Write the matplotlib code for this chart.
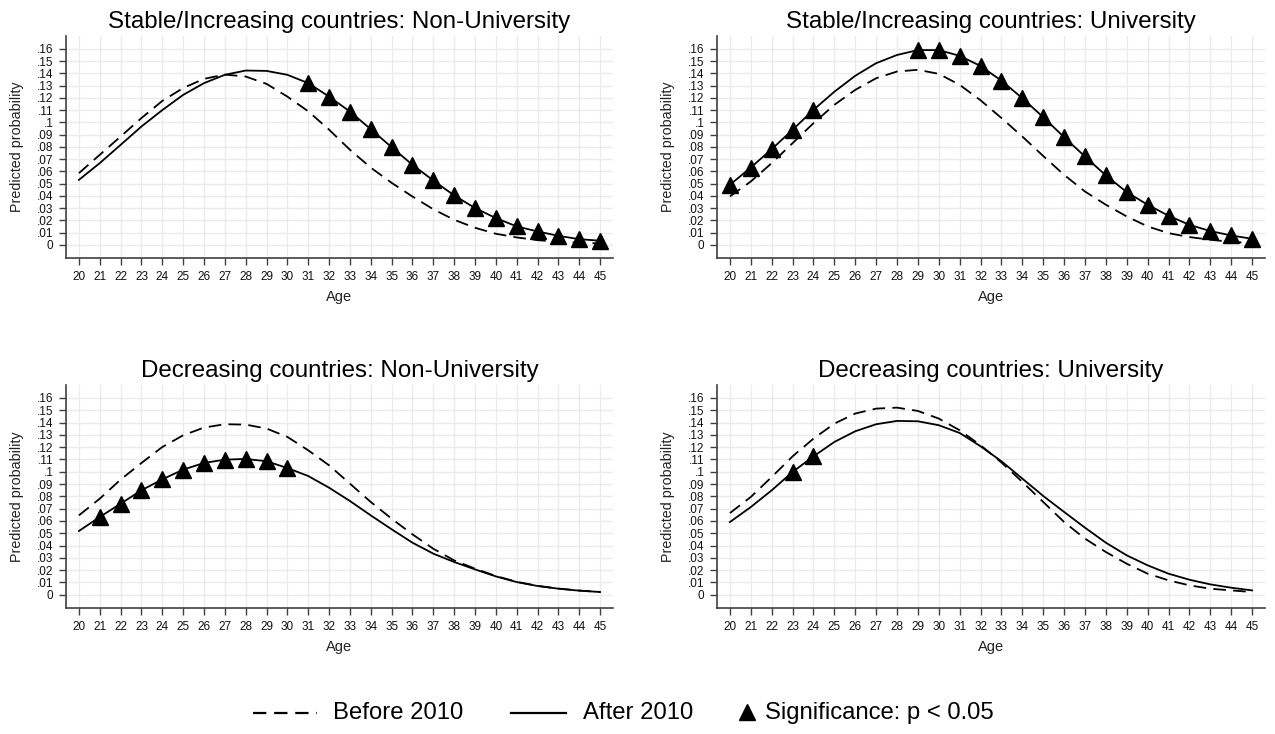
import matplotlib
matplotlib.use("Agg")
import matplotlib.pyplot as plt
from matplotlib.lines import Line2D

plt.rcParams['font.family'] = ['Liberation Sans', 'DejaVu Sans']

# ages on the x axis
ages = list(range(20, 46))

# Stable/Increasing countries: Non-University
si_nonuni_before = [.0585, .0735, .0884, .1035, .1175, .128, .1355, .1390, .1374, .1314,
                    .121, .109, .094, .0776, .063, .0506, .0394, .0290, .0204, .0139,
                    .0090, .0060, .0038, .0024, .0016, .0011]
si_nonuni_after = [.053, .0667, .0816, .0966, .110, .1224, .132, .1388, .1423, .142,
                   .1388, .132, .121, .1088, .0944, .0797, .0653, .0525, .0403, .030,
                   .0218, .015, .0109, .0073, .0046, .0033]
si_nonuni_sig = list(range(31, 46))

# Stable/Increasing countries: University
si_uni_before = [.0395, .0517, .0667, .083, .0993, .1143, .1265, .136, .1415, .1429,
                 .1396, .1306, .118, .1035, .0884, .0725, .0571, .0435, .0327, .0231,
                 .015, .0095, .0063, .0041, .0024, .0014]
si_uni_after = [.049, .0631, .0781, .0939, .1102, .125, .138, .1483, .155, .159,
                .159, .1543, .146, .134, .1197, .1042, .0879, .0721, .0566, .043,
                .0327, .0237, .0163, .0112, .0076, .0049]
si_uni_sig = [20, 21, 22, 23, 24] + list(range(29, 46))

# Decreasing countries: Non-University
de_nonuni_before = [.0645, .0781, .0936, .1071, .1201, .1296, .1359, .1386, .1383, .1351,
                    .1283, .1174, .1052, .0903, .0754, .0618, .0491, .0374, .0279, .0212,
                    .0152, .0105, .0072, .0050, .0034, .0023]
de_nonuni_after = [.0518, .0632, .074, .0849, .0938, .1017, .1071, .1098, .1104, .1085,
                   .103, .0965, .087, .0762, .0645, .0532, .0423, .0334, .0266, .0206,
                   .0149, .0103, .0071, .0049, .0033, .0022]
de_nonuni_sig = list(range(21, 31))

# Decreasing countries: University
de_uni_before = [.0664, .0795, .0957, .1125, .1269, .1391, .1473, .1513, .1521, .1494,
                 .1432, .1337, .1215, .1075, .0917, .0754, .0591, .0456, .0347, .0252,
                 .0171, .0117, .0076, .0049, .0035, .0022]
de_uni_after = [.0591, .0713, .0849, .0998, .1125, .1242, .1329, .1386, .1413, .141,
                .1378, .1315, .1207, .1085, .0944, .0803, .0673, .0545, .0423, .032,
                .0239, .0171, .0122, .0084, .0057, .0035]
de_uni_sig = [23, 24]

titles = ["Stable/Increasing countries: Non-University",
          "Stable/Increasing countries: University",
          "Decreasing countries: Non-University",
          "Decreasing countries: University"]

yticks = [i / 100 for i in range(0, 17)]
yticklabels = ["0"] + [("%.2f" % v).lstrip("0").rstrip("0") for v in yticks[1:]]

W, H = 1275, 734
fig = plt.figure(figsize=(W / 100, H / 100), dpi=100)

DASH = (0, (7, 4))
AXC = '#404040'


def px_axes(left, top, right, bottom):
    return fig.add_axes([left / W, 1 - bottom / H, (right - left) / W, (bottom - top) / H])


panels = [
    (si_nonuni_before, si_nonuni_after, si_nonuni_sig, (66, 36, 613, 258)),
    (si_uni_before, si_uni_after, si_uni_sig, (717, 36, 1265, 258)),
    (de_nonuni_before, de_nonuni_after, de_nonuni_sig, (66, 385, 613, 608)),
    (de_uni_before, de_uni_after, de_uni_sig, (717, 385, 1265, 608)),
]

for title, (before, after, sig, box) in zip(titles, panels):
    left, top, right, bottom = box
    ax = px_axes(left, top, right, bottom)
    ax.plot(ages, before, color='black', lw=1.3, ls=DASH)
    ax.plot(ages, after, color='black', lw=1.3)
    sig_vals = [after[ages.index(a)] for a in sig]
    ax.plot(sig, sig_vals, ls='none', marker='^', ms=11, color='black')

    ax.set_xlim(19.38, 45.62)
    ax.set_ylim(-0.0108, 0.1705)
    ax.set_xticks(ages)
    ax.set_yticks(yticks)
    ax.set_yticklabels(yticklabels)
    ax.grid(True, color='#ebebeb', lw=1.0)
    ax.set_axisbelow(True)
    for s in ['top', 'right']:
        ax.spines[s].set_visible(False)
    for s in ['left', 'bottom']:
        ax.spines[s].set_color(AXC)
        ax.spines[s].set_linewidth(1.2)
    ax.tick_params(direction='out', length=5, width=1, color=AXC,
                   labelsize=8.5, labelcolor='#111111', pad=4)

    cx = (left + right) / 2
    fig.text(cx / W, 1 - (top - 8) / H, title, ha='center', va='baseline', fontsize=17.4)
    fig.text((left - 49) / W, 1 - ((top + bottom) / 2) / H, "Predicted probability",
             rotation=90, ha='center', va='center', fontsize=10.3, color='#222222')
    fig.text(cx / W, 1 - (bottom + 39) / H, "Age", ha='center', va='center',
             fontsize=10.5, color='#222222')

# legend drawn along the bottom
ly = 1 - 713 / H
fig.add_artist(Line2D([253 / W, 317 / W], [ly, ly], transform=fig.transFigure,
                      color='black', lw=1.6, ls=(0, (6, 3.5))))
fig.text(333 / W, ly, "Before 2010", ha='left', va='center', fontsize=17.2)
fig.add_artist(Line2D([511 / W, 566 / W], [ly, ly], transform=fig.transFigure,
                      color='black', lw=1.6))
fig.text(583 / W, ly, "After 2010", ha='left', va='center', fontsize=17.2)
fig.add_artist(Line2D([747 / W], [ly + 0.002], transform=fig.transFigure,
                      ls='none', marker='^', ms=12, color='black'))
fig.text(765 / W, ly, "Significance: p < 0.05", ha='left', va='center', fontsize=17.2)

fig.savefig("out.png", dpi=100)
